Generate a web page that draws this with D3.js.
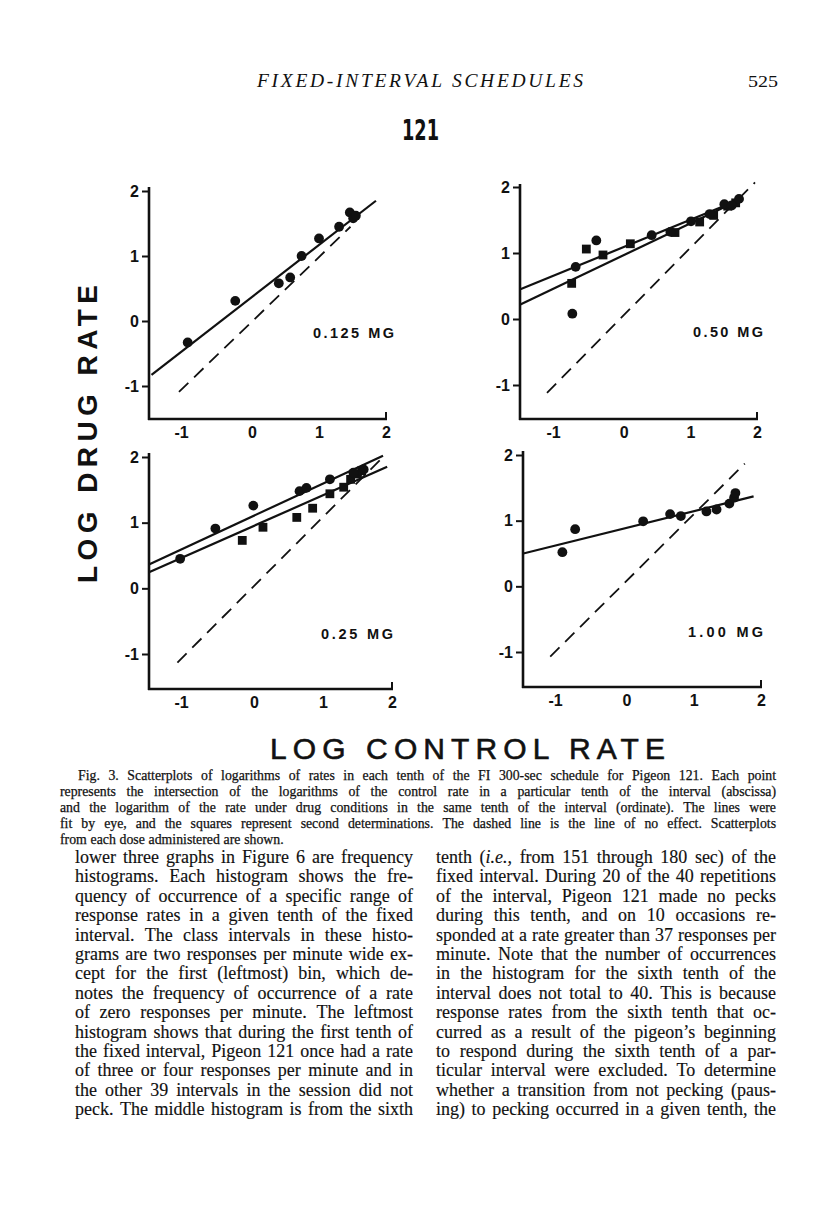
<!DOCTYPE html>
<html><head><meta charset="utf-8">
<script src="https://cdn.jsdelivr.net/npm/d3@7"></script>
<style>body{margin:0;background:#fff} svg{display:block}</style>
</head><body>
<svg id="page" width="816" height="1207"></svg>
<script>
// ---------------- DATA ----------------
const doseLabels = ["0.125 MG", "0.50 MG", "0.25 MG", "1.00 MG"];
const tickValues = [-1, 0, 1, 2];
const tickLabels = ["-1", "0", "1", "2"];

// 0.125 mg
const circles0125 = [[-0.96,-0.33],[-0.25,0.31],[0.40,0.58],[0.57,0.67],[0.74,1.00],[1.00,1.27],[1.30,1.45],[1.46,1.67],[1.51,1.58],[1.55,1.62]];
const squares0125 = [];
const fits0125 = [[-1.50,-0.83,1.85,1.85]];
const noEffect0125 = [-1.09,-1.09,1.47,1.45];

// 0.50 mg
const circles050 = [[-0.72,0.79],[-0.77,0.08],[-0.41,1.19],[0.42,1.27],[0.70,1.32],[1.01,1.48],[1.29,1.59],[1.51,1.74],[1.62,1.72],[1.73,1.82]];
const squares050 = [[-0.78,0.54],[-0.56,1.06],[-0.31,0.97],[0.10,1.14],[0.77,1.31],[1.14,1.47],[1.35,1.57],[1.56,1.71],[1.68,1.76]];
const fits050 = [[-1.55,0.45,1.79,1.83],[-1.55,0.22,1.79,1.83]];
const noEffect050 = [-1.15,-1.12,1.97,2.07];

// 0.25 mg
const circles025 = [[-1.07,0.45],[-0.56,0.91],[-0.01,1.26],[0.66,1.48],[0.76,1.53],[1.10,1.66],[1.44,1.76],[1.59,1.81]];
const squares025 = [[-0.17,0.73],[0.13,0.93],[0.62,1.08],[0.85,1.22],[1.10,1.44],[1.30,1.54],[1.40,1.66],[1.50,1.74],[1.56,1.79]];
const fits025 = [[-1.53,0.36,1.87,2.02],[-1.53,0.24,1.93,1.85]];
const noEffect025 = [-1.11,-1.13,1.87,2.00];

// 1.00 mg
const circles100 = [[-0.95,0.52],[-0.76,0.87],[0.25,0.99],[0.65,1.10],[0.81,1.07],[1.19,1.14],[1.34,1.17],[1.53,1.26],[1.60,1.35],[1.62,1.42]];
const squares100 = [];
const fits100 = [[-1.53,0.50,1.89,1.37]];
const noEffect100 = [-1.13,-1.07,1.76,1.87];

// text content
const headerTitle = "FIXED-INTERVAL SCHEDULES";
const pageNumber = "525";
const subjectLabel = "121";
const yTitle = "LOG DRUG RATE";
const xTitle = "LOG CONTROL RATE";
const captionLines = [
  "Fig. 3. Scatterplots of logarithms of rates in each tenth of the FI 300-sec schedule for Pigeon 121. Each point",
  "represents the intersection of the logarithms of the control rate in a particular tenth of the interval (abscissa)",
  "and the logarithm of the rate under drug conditions in the same tenth of the interval (ordinate). The lines were",
  "fit by eye, and the squares represent second determinations. The dashed line is the line of no effect. Scatterplots",
  "from each dose administered are shown."
];
const leftColumn = [
  "lower three graphs in Figure 6 are frequency",
  "histograms. Each histogram shows the fre-",
  "quency of occurrence of a specific range of",
  "response rates in a given tenth of the fixed",
  "interval. The class intervals in these histo-",
  "grams are two responses per minute wide ex-",
  "cept for the first (leftmost) bin, which de-",
  "notes the frequency of occurrence of a rate",
  "of zero responses per minute. The leftmost",
  "histogram shows that during the first tenth of",
  "the fixed interval, Pigeon 121 once had a rate",
  "of three or four responses per minute and in",
  "the other 39 intervals in the session did not",
  "peck. The middle histogram is from the sixth"
];
const rightColumn = [
  "tenth (*i.e.,* from 151 through 180 sec) of the",
  "fixed interval. During 20 of the 40 repetitions",
  "of the interval, Pigeon 121 made no pecks",
  "during this tenth, and on 10 occasions re-",
  "sponded at a rate greater than 37 responses per",
  "minute. Note that the number of occurrences",
  "in the histogram for the sixth tenth of the",
  "interval does not total to 40. This is because",
  "response rates from the sixth tenth that oc-",
  "curred as a result of the pigeon\u2019s beginning",
  "to respond during the sixth tenth of a par-",
  "ticular interval were excluded. To determine",
  "whether a transition from not pecking (paus-",
  "ing) to pecking occurred in a given tenth, the"
];

// ---------------- LAYOUT ----------------
const panels = [
  {label: doseLabels[0], circles: circles0125, squares: squares0125, fits: fits0125, dash: noEffect0125,
   xr: [185, 386], yr: [386, 191], ax: 149, ay: 419, top: 187, lab: [313, 338, 81]},
  {label: doseLabels[1], circles: circles050, squares: squares050, fits: fits050, dash: noEffect050,
   xr: [557, 757], yr: [385, 187], ax: 520, ay: 419, top: 184, lab: [693, 337, 70]},
  {label: doseLabels[2], circles: circles025, squares: squares025, fits: fits025, dash: noEffect025,
   xr: [185, 392], yr: [654, 457], ax: 149, ay: 689, top: 453, lab: [321, 639, 72]},
  {label: doseLabels[3], circles: circles100, squares: squares100, fits: fits100, dash: noEffect100,
   xr: [559, 761], yr: [652, 455], ax: 523, ay: 687, top: 451, lab: [688, 637, 75]}
];

const svg = d3.select("#page");
const INK = "#111";
const LETTER = "'Liberation Sans', Arial, sans-serif";
const SERIF = "'Liberation Serif', 'Times New Roman', serif";

panels.forEach(p => {
  const x = d3.scaleLinear().domain([-1, 2]).range(p.xr);
  const y = d3.scaleLinear().domain([-1, 2]).range(p.yr);
  const g = svg.append("g");

  // axis lines
  g.append("line").attr("x1", p.ax).attr("x2", p.ax).attr("y1", p.top).attr("y2", p.ay + 1)
    .attr("stroke", INK).attr("stroke-width", 2.6);
  g.append("line").attr("x1", p.ax - 1).attr("x2", x(2) + 1).attr("y1", p.ay).attr("y2", p.ay)
    .attr("stroke", INK).attr("stroke-width", 2.6);
  g.append("line").attr("x1", x(2)).attr("x2", x(2)).attr("y1", p.ay).attr("y2", p.ay - 7)
    .attr("stroke", INK).attr("stroke-width", 2);

  // y axis ticks + labels
  const ya = g.append("g").attr("transform", `translate(${p.ax},0)`)
    .call(d3.axisLeft(y).tickValues(tickValues).tickSize(7).tickPadding(3)
      .tickFormat((d, i) => tickLabels[i]));
  ya.select(".domain").remove();
  ya.selectAll("line").attr("stroke", INK).attr("stroke-width", 2);
  ya.selectAll("text").attr("font-family", LETTER).attr("font-weight", "bold")
    .attr("font-size", 16).attr("fill", INK);

  // x axis labels
  const xa = g.append("g").attr("transform", `translate(0,${p.ay})`)
    .call(d3.axisBottom(x).tickValues(tickValues).tickSize(0).tickPadding(8)
      .tickFormat((d, i) => tickLabels[i]));
  xa.select(".domain").remove();
  xa.selectAll("line").remove();
  xa.selectAll("text").attr("font-family", LETTER).attr("font-weight", "bold")
    .attr("font-size", 16).attr("fill", INK)
    .attr("dx", d => d < 0 ? -4 : 0);

  // line of no effect
  g.append("line")
    .attr("x1", x(p.dash[0])).attr("y1", y(p.dash[1]))
    .attr("x2", x(p.dash[2])).attr("y2", y(p.dash[3]))
    .attr("stroke", INK).attr("stroke-width", 1.8).attr("stroke-dasharray", "13,8");

  // fitted lines
  g.selectAll(".fit").data(p.fits).enter().append("line")
    .attr("x1", d => x(d[0])).attr("y1", d => y(d[1]))
    .attr("x2", d => x(d[2])).attr("y2", d => y(d[3]))
    .attr("stroke", INK).attr("stroke-width", 2.2);

  // points
  g.selectAll(".sq").data(p.squares).enter().append("rect")
    .attr("x", d => x(d[0]) - 4.4).attr("y", d => y(d[1]) - 4.4)
    .attr("width", 8.8).attr("height", 8.8).attr("fill", INK);
  g.selectAll(".ci").data(p.circles).enter().append("circle")
    .attr("cx", d => x(d[0])).attr("cy", d => y(d[1])).attr("r", 4.9).attr("fill", INK);

  // dose label
  g.append("text").attr("x", p.lab[0]).attr("y", p.lab[1]).text(p.label)
    .attr("font-family", LETTER).attr("font-weight", "bold").attr("font-size", 14.5)
    .attr("textLength", p.lab[2]).attr("lengthAdjust", "spacing").attr("fill", INK);
});

// axis titles
svg.append("text").attr("transform", "translate(97,434) rotate(-90)")
  .attr("text-anchor", "middle").text(yTitle)
  .attr("font-family", LETTER).attr("font-size", 28).attr("font-weight", "bold")
  .attr("textLength", 298).attr("lengthAdjust", "spacing").attr("fill", INK);
svg.append("text").attr("x", 467.5).attr("y", 759)
  .attr("text-anchor", "middle").text(xTitle)
  .attr("font-family", LETTER).attr("font-size", 30)
  .attr("textLength", 395).attr("lengthAdjust", "spacing").attr("fill", INK)
  .attr("stroke", INK).attr("stroke-width", 0.6);

// header
svg.append("text").attr("x", 257).attr("y", 87).text(headerTitle)
  .attr("font-family", SERIF).attr("font-style", "italic").attr("font-size", 19.5)
  .attr("textLength", 326).attr("lengthAdjust", "spacing").attr("fill", INK);
svg.append("text").attr("x", 748).attr("y", 87).text(pageNumber)
  .attr("font-family", SERIF).attr("font-size", 17).attr("fill", INK)
  .attr("textLength", 30).attr("lengthAdjust", "spacingAndGlyphs");
svg.append("text").attr("x", 402).attr("y", 140).text(subjectLabel)
  .attr("font-family", "'DejaVu Sans', sans-serif").attr("font-weight", "bold").attr("font-size", 28)
  .attr("textLength", 37).attr("lengthAdjust", "spacingAndGlyphs").attr("fill", INK);

// justified text helper
function setLine(str, x0, width, yb, size, justify, extraStroke) {
  const words = str.split(" ");
  const nodes = words.map(w => {
    const t = svg.append("text").attr("y", yb).attr("font-family", SERIF)
      .attr("font-size", size).attr("fill", INK);
    if (extraStroke) t.attr("stroke", INK).attr("stroke-width", extraStroke);
    w.split("*").forEach((seg, i) => {
      if (seg.length) t.append("tspan").text(seg).attr("font-style", i % 2 ? "italic" : "normal");
    });
    return t;
  });
  const widths = nodes.map(n => n.node().getComputedTextLength());
  const total = d3.sum(widths);
  const gap = justify && nodes.length > 1 ? (width - total) / (nodes.length - 1) : size * 0.27;
  let cx = x0;
  nodes.forEach((n, i) => { n.attr("x", cx); cx += widths[i] + gap; });
}

captionLines.forEach((l, i) => {
  const x0 = i === 0 ? 78 : 60;
  setLine(l, x0, 776 - x0, 780 + i * 16, 13.8, i < captionLines.length - 1, 0.25);
});
leftColumn.forEach((l, i) => setLine(l, 75, 338, 863 + i * 19.4, 18, true, 0.15));
rightColumn.forEach((l, i) => setLine(l, 436, 340, 863 + i * 19.4, 18, true, 0.15));
</script>
</body></html>
